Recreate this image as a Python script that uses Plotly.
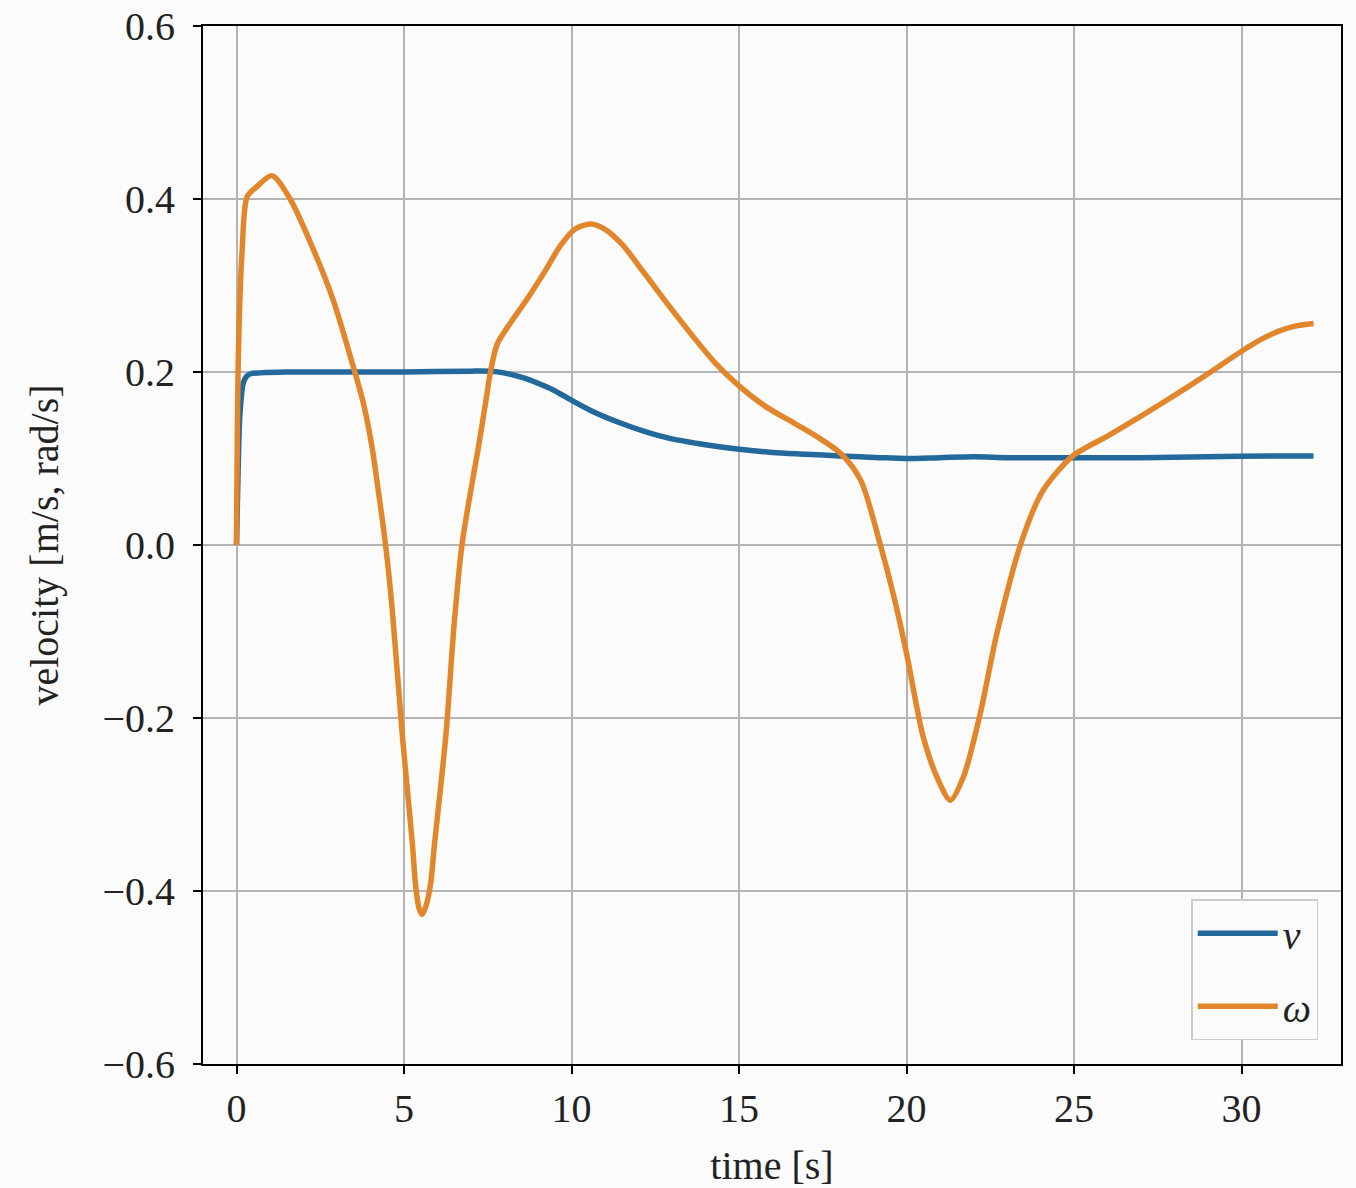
import plotly.graph_objects as go

# time [s] and omega [rad/s]
t_omega = [0, 0.06, 0.17, 0.32, 0.6, 1.06, 1.6, 2.29, 2.88, 3.48, 3.8, 4.05, 4.25, 4.45,
           4.65, 4.95, 5.25, 5.35, 5.45, 5.54, 5.65, 5.8, 5.9, 6.25, 6.5, 6.73, 6.98, 7.23,
           7.45, 7.58, 7.78, 8.18, 8.67, 9.2, 9.67, 10.1, 10.57, 11.0, 11.5, 12.16, 12.9,
           13.65, 14.3, 15.0, 15.8, 16.64, 17.3, 18.03, 18.63, 19.22, 19.6, 20.0, 20.5,
           20.95, 21.31, 21.7, 22.2, 22.7, 23.4, 24.0, 24.4, 25.0, 26.0, 27.0, 28.0, 29.0,
           30.0, 30.6, 31.1, 31.6, 32.15]
omega = [0.0, 0.226, 0.342, 0.403, 0.414, 0.427, 0.4, 0.342, 0.284, 0.207, 0.162, 0.112, 0.058, 0.0,
         -0.075, -0.22, -0.345, -0.395, -0.42, -0.427, -0.418, -0.39, -0.35, -0.22, -0.09, 0.0,
         0.06, 0.115, 0.168, 0.2, 0.232, 0.257, 0.284, 0.316, 0.346, 0.365, 0.371, 0.365, 0.348,
         0.315, 0.277, 0.24, 0.21, 0.184, 0.16, 0.141, 0.126, 0.106, 0.075, 0.0, -0.056, -0.125,
         -0.222, -0.272, -0.295, -0.268, -0.195, -0.102, 0.0, 0.058, 0.08, 0.104, 0.126, 0.149,
         0.173, 0.198, 0.224, 0.238, 0.247, 0.253, 0.256]

# time [s] and linear velocity v [m/s]
t_v = [0, 0.05, 0.1, 0.2, 0.3, 0.42, 0.7, 1.5, 3.0, 5.0, 7.0, 7.6, 7.98, 8.6, 9.0, 9.47, 9.97,
       10.6, 11.46, 12.2, 12.96, 14.0, 14.95, 16.0, 17.0, 18.0, 19.2, 20.0, 21.0, 22.0,
       23.0, 24.0, 25.0, 27.0, 29.0, 31.0, 32.15]
v = [0.0, 0.09, 0.15, 0.187, 0.195, 0.198, 0.199, 0.2, 0.2, 0.2, 0.201, 0.2008, 0.199, 0.193, 0.187,
     0.179, 0.168, 0.155, 0.141, 0.131, 0.123, 0.116, 0.111, 0.107, 0.105, 0.103, 0.101,
     0.1, 0.101, 0.102, 0.101, 0.101, 0.101, 0.101, 0.102, 0.103, 0.103]

x_ticks = [0, 5, 10, 15, 20, 25, 30]
y_ticks = [-0.6, -0.4, -0.2, 0.0, 0.2, 0.4, 0.6]
y_tick_text = ["\u22120.6", "\u22120.4", "\u22120.2", "0.0", "0.2", "0.4", "0.6"]

BG = "#fafbfa"
FONT = "Liberation Serif"

fig = go.Figure()
fig.add_trace(go.Scatter(x=t_v, y=v, mode="lines", name="<i>v</i>",
                         line=dict(color="#23699c", width=5.5, shape="spline", smoothing=0.8),
                         legendgroup="a"))
fig.add_trace(go.Scatter(x=t_omega, y=omega, mode="lines", name="<i>ω</i>",
                         line=dict(color="#e2862c", width=5.5, shape="spline", smoothing=0.8),
                         legendgroup="b"))

axis_common = dict(showline=True, linecolor="black", linewidth=2, mirror=True,
                   ticks="outside", ticklen=8, tickwidth=2, tickcolor="black",
                   showgrid=True, gridcolor="#b4b4b4", gridwidth=1.5, zeroline=False,
                   ticklabeloverflow="allow", automargin=False,
                   tickfont=dict(family=FONT, size=40, color="#222"))

fig.update_layout(
    width=1356, height=1188,
    margin=dict(l=203, r=15, t=26, b=124),
    paper_bgcolor=BG, plot_bgcolor=BG,
    font=dict(family=FONT, color="#222"),
    xaxis=dict(range=[-1.0, 32.97], tickvals=x_ticks,
               title=dict(text="time [s]", font=dict(family=FONT, size=40), standoff=28),
               **axis_common),
    yaxis=dict(range=[-0.6, 0.6], tickvals=y_ticks, ticktext=y_tick_text,
               ticklabelstandoff=10,
               title=dict(text="velocity [m/s, rad/s]", font=dict(family=FONT, size=40), standoff=31),
               **axis_common),
    legend=dict(x=0.98, y=0.023, xanchor="right", yanchor="bottom",
                bgcolor=BG, bordercolor="#cccccc", borderwidth=1.5,
                font=dict(family=FONT, size=40, color="#222"),
                tracegroupgap=18, itemwidth=80),
    showlegend=True,
)

# remove the default page margin so the figure fills the window exactly
fig.write_html("out.html",
               config={"displayModeBar": False},
               post_script="document.body.style.margin='0';document.body.style.overflow='hidden';")
